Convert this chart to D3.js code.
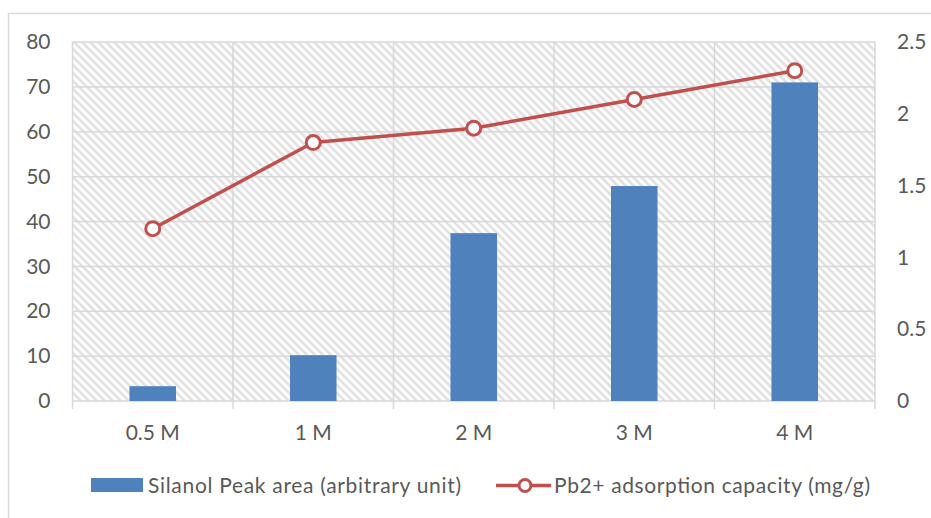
<!DOCTYPE html>
<html><head><meta charset="utf-8">
<script src="https://cdn.jsdelivr.net/npm/d3@7"></script>
<style>body{margin:0;background:#fff}svg{display:block}text{font-family:Lato,"Open Sans",sans-serif;fill:#595959}</style>
</head><body><svg id="c" width="931" height="518"></svg>
<script>
const categories = ["0.5 M","1 M","2 M","3 M","4 M"];
const silanolArea = [3.3, 10.2, 37.4, 47.9, 71.0];
const pbCapacity = [1.2, 1.8, 1.9, 2.1, 2.3];
const leftTicks = [0,10,20,30,40,50,60,70,80];
const rightTicks = [0,0.5,1,1.5,2,2.5];
const seriesNames = ["Silanol Peak area (arbitrary unit)","Pb2+ adsorption capacity (mg/g)"];

const svg = d3.select("#c");
const m = {l:72.5, r:875, t:42, b:401};
const FS = 21;
const defs = svg.append("defs");
const pat = defs.append("pattern").attr("id","hatch").attr("patternUnits","userSpaceOnUse")
  .attr("width",8).attr("height",8);
pat.append("rect").attr("width",8).attr("height",8).attr("fill","#fff");
pat.append("path").attr("d","M-2,6 L2,10 M0,0 L8,8 M6,-2 L10,2").attr("stroke","#e2e2e2").attr("stroke-width",2.8);

// outer border
svg.append("path").attr("d","M8.5,518 L8.5,13.5 L931,13.5").attr("fill","none").attr("stroke","#d9d9d9").attr("stroke-width",1.5);

const x = d3.scaleBand().domain(categories).range([m.l,m.r]);
const yL = d3.scaleLinear().domain([0,80]).range([m.b,m.t]);
const yR = d3.scaleLinear().domain([0,2.5]).range([m.b,m.t]);

svg.append("rect").attr("x",m.l).attr("y",m.t).attr("width",m.r-m.l).attr("height",m.b-m.t).attr("fill","url(#hatch)");

// horizontal gridlines
svg.append("g").selectAll("line").data(leftTicks).join("line")
  .attr("x1",m.l).attr("x2",m.r).attr("y1",d=>yL(d)).attr("y2",d=>yL(d))
  .attr("stroke","#d9d9d9").attr("stroke-width",1.5);
// vertical gridlines at category boundaries
const bounds = categories.map(c=>x(c)).concat([m.r]);
svg.append("g").selectAll("line").data(bounds).join("line")
  .attr("x1",d=>d).attr("x2",d=>d).attr("y1",m.t).attr("y2",m.b+8)
  .attr("stroke","#d9d9d9").attr("stroke-width",1.5);

// bars
const bw = x.bandwidth()*0.29;
svg.append("g").selectAll("rect").data(silanolArea).join("rect")
  .attr("x",(d,i)=>x(categories[i])+x.bandwidth()/2-bw/2)
  .attr("y",d=>yL(d)).attr("width",bw).attr("height",d=>yL(0)-yL(d))
  .attr("fill","#4f81bd");

// axes labels
const axL = svg.append("g").attr("transform",`translate(${m.l},0)`).call(d3.axisLeft(yL).tickValues(leftTicks).tickSize(0).tickPadding(22));
const axR = svg.append("g").attr("transform",`translate(${m.r},0)`).call(d3.axisRight(yR).tickValues(rightTicks).tickFormat(d=>String(d)).tickSize(0).tickPadding(22));
const axB = svg.append("g").attr("transform",`translate(0,${m.b})`).call(d3.axisBottom(x).tickSize(0).tickPadding(24));
[axL,axR,axB].forEach(a=>{a.select(".domain").remove();a.selectAll("text").attr("font-size",FS).attr("fill","#595959").style("font-family","Lato,'Open Sans',sans-serif");});

// line
const line = d3.line().x((d,i)=>x(categories[i])+x.bandwidth()/2).y(d=>yR(d));
svg.append("path").datum(pbCapacity).attr("d",line).attr("fill","none").attr("stroke","#c0504d").attr("stroke-width",3.5).attr("stroke-linejoin","round");
svg.append("g").selectAll("circle").data(pbCapacity).join("circle")
  .attr("cx",(d,i)=>x(categories[i])+x.bandwidth()/2).attr("cy",d=>yR(d)).attr("r",7)
  .attr("fill","#fff").attr("stroke","#c0504d").attr("stroke-width",3);

// legend
const lg = svg.append("g");
lg.append("rect").attr("x",91).attr("y",478).attr("width",52).attr("height",14).attr("fill","#4f81bd");
lg.append("text").attr("x",148).attr("y",493).attr("font-size",FS).attr("textLength",313).attr("lengthAdjust","spacing").text(seriesNames[0]);
lg.append("line").attr("x1",496).attr("x2",551).attr("y1",485.5).attr("y2",485.5).attr("stroke","#c0504d").attr("stroke-width",3.5);
lg.append("circle").attr("cx",525).attr("cy",485.5).attr("r",6).attr("fill","#fff").attr("stroke","#c0504d").attr("stroke-width",3);
lg.append("text").attr("x",554).attr("y",493).attr("font-size",FS).attr("textLength",316).attr("lengthAdjust","spacing").text(seriesNames[1]);
</script></body></html>
